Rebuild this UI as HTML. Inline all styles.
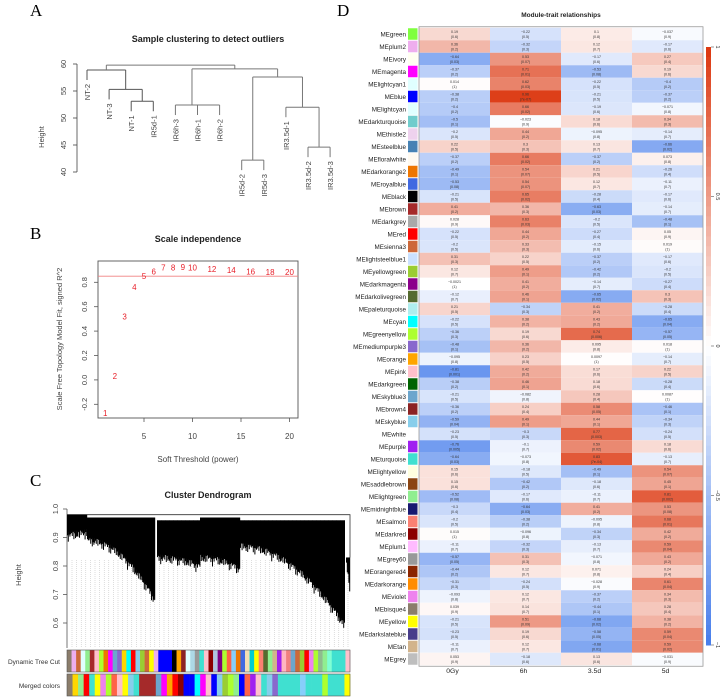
<!DOCTYPE html>
<html><head><meta charset="utf-8"><style>
html,body{margin:0;padding:0;background:#fff;}
svg{display:block;font-family:"Liberation Sans",sans-serif;}
</style></head><body>
<svg id="fig" width="722" height="698" viewBox="0 0 722 698" xmlns="http://www.w3.org/2000/svg">
<text x="30" y="16" font-family="Liberation Serif,serif" font-size="17">A</text>
<text x="337" y="16" font-family="Liberation Serif,serif" font-size="17">D</text>
<text x="30" y="239" font-family="Liberation Serif,serif" font-size="17">B</text>
<text x="30" y="486" font-family="Liberation Serif,serif" font-size="17">C</text>
<text x="208" y="42" text-anchor="middle" font-size="9" font-weight="bold" fill="#222">Sample clustering to detect outliers</text>
<text x="198" y="242" text-anchor="middle" font-size="9" font-weight="bold" fill="#222">Scale independence</text>
<text x="208" y="498" text-anchor="middle" font-size="9" font-weight="bold" fill="#222">Cluster Dendrogram</text>
<text x="561" y="17" text-anchor="middle" font-size="6.5" font-weight="bold" fill="#222">Module-trait relationships</text>
<g id="ga"></g>
<g id="gb"></g>
<g id="gc"></g>
<g id="gd"></g>
</svg>
<script>
// ---------- Panel A data ----------
const sampleNames = ["NT-2","NT-3","NT-1","IR5d-1","IR6h-3","IR6h-1","IR6h-2","IR5d-2","IR5d-3","IR3.5d-1","IR3.5d-2","IR3.5d-3"];
const mergeLeft  = [-3,-2,-1,-6,-5,-8,-11,-10,6,5,3];
const mergeRight = [-4, 1, 2,-7, 4,-9,-12,  7,8,9,10];
const mergeHeight= [53.1,55.3,58.9,52.4,52.4,42.2,44.6,52.0,57.6,59.1,59.8];
const aTicks = [40,45,50,55,60];
// ---------- Panel B data ----------
const powers = [1,2,3,4,5,6,7,8,9,10,12,14,16,18,20];
const fitR2  = [-0.27,0.03,0.52,0.76,0.85,0.89,0.92,0.92,0.925,0.92,0.91,0.9,0.89,0.885,0.885];
const bXTicks = [5,10,15,20];
const bYTicks = [-0.2,0,0.2,0.4,0.6,0.8];
const cutoff = 0.85;
// ---------- Panel C data ----------
const cTicks = [0.6,0.7,0.8,0.9,1.0];
const clusterStart = [67,87,157,200,240,346];
const clusterEnd   = [87,155,200,240,345,350];
const clusterTop   = [0.98,0.97,0.96,0.97,0.96,0.83];
const clusterBotL  = [0.88,0.86,0.80,0.80,0.84,0.78];
const clusterBotR  = [0.89,0.65,0.77,0.76,0.56,0.67];
const dynColors = ["#8b7d6b","#eeaeee","#cd6839","#e0ffff","#90ee90","#a52a2a","#ffc0cb","#adff2f","#ee7600","#ff00ff","#6ca6cd","#8968cd","#ffd700","#00ffff","#ff0000","#87ceeb","#9acd32","#cd6839","#ffff00","#eeaeee","#0000ff","#0000ff","#0000ff","#000000","#ffa500","#8b2323","#e0ffff","#add8e6","#999999","#40e0d0","#ffc0cb","#8b0000","#b0c4de","#800080","#adff2f","#ff6347","#87cefa","#ee7600","#4169e1","#f5deb3","#00ced1","#ffff00","#fa8072","#556b2f","#90ee90","#d2b48c","#a020f0","#ffb6c1","#f08080","#6ca6cd","#cd6839","#9acd32","#ff0000","#ee82ee","#adff2f","#8fbc8f","#90ee90","#7fffd4","#40e0d0","#40e0d0","#40e0d0","#ffc0cb"];
const mrgColors = ["#8b7d6b","#ffd700","#90ee90","#ff0000","#40e0d0","#ffff00","#ee82ee","#adff2f","#ff6347","#ffc0cb","#ffff00","#87ceeb","#40e0d0","#a52a2a","#a52a2a","#a52a2a","#6ca6cd","#ff00ff","#ffa500","#ff0000","#8b0000","#0000ff","#0000ff","#00ffff","#ff00ff","#ffc0cb","#0000ff","#87ceeb","#9acd32","#adff2f","#90ee90","#0000ff","#ff6347","#a020f0","#ffc0cb","#40e0d0","#87ceeb","#8968cd","#40e0d0","#40e0d0","#40e0d0","#40e0d0","#87cefa","#40e0d0","#40e0d0","#40e0d0","#adff2f","#40e0d0","#40e0d0","#40e0d0","#ffff00"];
// ---------- Panel D data ----------
const modules = ["green","plum2","ivory","magenta","lightcyan1","blue","lightcyan","darkturquoise","thistle2","steelblue","floralwhite","darkorange2","royalblue","black","brown","darkgrey","red","sienna3","lightsteelblue1","yellowgreen","darkmagenta","darkolivegreen","paleturquoise","cyan","greenyellow","mediumpurple3","orange","pink","darkgreen","skyblue3","brown4","skyblue","white","purple","turquoise","lightyellow","saddlebrown","lightgreen","midnightblue","salmon","darkred","plum1","grey60","orangered4","darkorange","violet","bisque4","yellow","darkslateblue","tan","grey"];
const moduleColors = ["#7fff3f","#eeaeee","#fffff0","#ff00ff","#e0ffff","#0000ff","#e0ffff","#70cccc","#eed2ee","#4682b4","#fffaf0","#ee7600","#4169e1","#000000","#a52a2a","#a9a9a9","#ff0000","#cd6839","#cae1ff","#9acd32","#8b008b","#556b2f","#afeeee","#00ffff","#adff2f","#8968cd","#ffa500","#ffc0cb","#006400","#6ca6cd","#8b2323","#87ceeb","#ffffff","#a020f0","#40e0d0","#ffffe0","#8b4513","#90ee90","#191970","#fa8072","#8b0000","#ffbbff","#999999","#8b2500","#ff8c00","#ee82ee","#8b7d6b","#ffff00","#483d8b","#d2b48c","#bebebe"];
const traits = ["0Gy","6h","3.5d","5d"];
const cor0Gy = [0.19,0.36,-0.64,-0.37,0.014,-0.38,-0.4,-0.5,-0.2,0.22,-0.37,-0.49,-0.53,-0.21,0.41,0.028,-0.22,-0.2,0.31,0.12,-0.0021,-0.12,0.21,-0.22,-0.36,-0.48,-0.095,-0.81,-0.38,-0.21,-0.36,-0.59,-0.23,-0.76,-0.64,0.15,0.15,-0.52,-0.3,-0.2,0.015,-0.11,-0.57,-0.44,-0.31,-0.093,0.039,-0.21,-0.23,-0.11,0.053];
const p0Gy = ["0.6","0.2","0.03","0.2","1","0.2","0.2","0.1","0.5","0.5","0.2","0.1","0.08","0.5","0.2","0.9","0.5","0.5","0.3","0.7","1","0.7","0.5","0.5","0.3","0.1","0.8","0.001","0.2","0.5","0.2","0.04","0.5","0.005","0.03","0.6","0.6","0.08","0.4","0.5","1","0.7","0.05","0.2","0.3","0.8","0.9","0.5","0.5","0.7","0.9"];
const cor6h = [-0.22,-0.32,0.53,0.71,0.62,0.96,0.66,-0.023,0.44,0.3,0.66,0.54,0.54,0.65,0.36,0.63,0.44,0.33,0.22,0.49,0.41,0.46,-0.34,0.38,0.19,0.36,0.23,0.42,0.46,-0.082,0.24,0.49,-0.3,-0.1,-0.073,-0.18,-0.42,-0.17,-0.64,-0.38,-0.096,-0.32,0.31,0.12,-0.24,0.12,0.14,0.51,0.19,0.12,-0.18];
const p6h = ["0.5","0.3","0.07","0.01","0.03","7e-07","0.02","0.9","0.2","0.3","0.02","0.07","0.07","0.02","0.3","0.03","0.2","0.3","0.5","0.1","0.2","0.1","0.3","0.2","0.6","0.2","0.5","0.2","0.1","0.8","0.4","0.1","0.3","0.7","0.8","0.5","0.2","0.6","0.03","0.2","0.8","0.3","0.3","0.7","0.5","0.7","0.7","0.09","0.6","0.7","0.6"];
const cor35d = [0.1,0.12,-0.17,-0.53,-0.22,-0.21,-0.19,0.18,-0.095,0.13,-0.37,0.21,0.12,-0.28,-0.63,-0.2,-0.27,-0.15,-0.37,-0.42,-0.14,-0.65,0.41,0.43,0.74,0.095,0.0097,0.17,0.18,0.28,0.58,0.44,0.77,0.59,0.83,-0.49,-0.18,-0.11,0.41,-0.095,-0.34,-0.13,-0.071,0.071,-0.028,-0.37,-0.44,-0.68,-0.58,-0.68,0.13];
const p35d = ["0.8","0.7","0.6","0.08","0.5","0.5","0.6","0.6","0.8","0.7","0.2","0.5","0.7","0.4","0.03","0.5","0.4","0.6","0.2","0.2","0.7","0.02","0.2","0.2","0.006","0.8","1","0.6","0.6","0.4","0.05","0.1","0.003","0.02","7e-04","0.1","0.6","0.7","0.2","0.8","0.3","0.7","0.8","0.8","0.9","0.2","0.1","0.02","0.05","0.01","0.6"];
const cor5d = [-0.037,-0.17,0.27,0.19,-0.4,-0.37,-0.071,0.34,-0.14,-0.66,0.073,-0.26,-0.11,-0.17,-0.14,-0.48,0.05,0.019,-0.17,-0.2,-0.27,0.3,-0.28,-0.65,-0.57,0.018,-0.14,0.22,-0.28,0.0087,-0.46,-0.34,-0.24,0.18,-0.13,0.54,0.45,0.81,0.53,0.68,0.42,0.59,0.43,0.24,0.61,0.34,0.28,0.38,0.59,0.59,-0.031];
const p5d = ["0.9","0.6","0.4","0.6","0.2","0.2","0.8","0.3","0.7","0.02","0.8","0.4","0.7","0.6","0.7","0.1","0.9","1","0.6","0.5","0.4","0.3","0.4","0.04","0.05","1","0.7","0.5","0.4","1","0.1","0.3","0.5","0.6","0.7","0.07","0.1","0.002","0.08","0.01","0.2","0.04","0.2","0.4","0.04","0.3","0.4","0.2","0.04","0.02","0.9"];
const cbTicks = [1,0.5,0,-0.5,-1];

const NS = "http://www.w3.org/2000/svg";
function mk(parent, tag, attrs, txt){
  const e = document.createElementNS(NS, tag);
  for (const k in attrs) e.setAttribute(k, attrs[k]);
  if (txt !== undefined) e.textContent = txt;
  parent.appendChild(e);
  return e;
}
function fmt(v){ return v < 0 ? "\u2212" + String(-v) : String(v); }

// ===== Panel A =====
(function(){
  const g = document.getElementById("ga");
  const yA = h => 64 + (60 - h) * 5.4;
  const xLeaf = i => 87 + i * 22.1;
  const ax = mk(g, "line", {x1:77, x2:77, y1:yA(40), y2:yA(60), stroke:"#444", "stroke-width":0.8});
  
  
  aTicks.forEach(t => {
    const tk = mk(g, "line", {x1:73, x2:77, y1:yA(t), y2:yA(t), stroke:"#444", "stroke-width":0.8});
    
    
    const lb = mk(g, "text", {x:0, y:0, transform:`translate(66,${yA(t)}) rotate(-90)`, "text-anchor":"middle", "font-size":7.5, fill:"#444"}, String(t));
    
    
  });
  const yl = mk(g, "text", {x:0, y:0, transform:"translate(44,137) rotate(-90)", "text-anchor":"middle", "font-size":7.5, fill:"#444"}, "Height");
  
  
  const centers = [];
  function node(ref){ return ref < 0 ? {x:xLeaf(-ref-1), leaf:-ref-1} : {x:centers[ref-1].x, h:mergeHeight[ref-1]}; }
  mergeLeft.forEach((l, i) => {
    const a = node(l), b = node(mergeRight[i]);
    const y = yA(mergeHeight[i]);
    const col = i < 3 ? "#555" : "#777";
    const hl = mk(g, "line", {x1:a.x, x2:b.x, y1:y, y2:y, stroke:col, "stroke-width":1});
    
    
    [a, b].forEach(n => {
      const yEnd = n.leaf !== undefined ? y + 10 : yA(n.h);
      const vl = mk(g, "line", {x1:n.x, x2:n.x, y1:y, y2:yEnd, stroke:col, "stroke-width":1});
      
      
      if (n.leaf !== undefined) {
        const t = mk(g, "text", {x:0, y:0, transform:`translate(${n.x+3},${yEnd+4}) rotate(-90)`, "text-anchor":"end", "font-size":7.5, fill:"#444"}, sampleNames[n.leaf]);
        
        
      }
    });
    centers.push({x:(a.x + b.x) / 2});
  });
})();

// ===== Panel B =====
(function(){
  const g = document.getElementById("gb");
  const xB = p => 144 + (p - 5) * 9.7;
  const yB = v => 282.3 + (0.8 - v) * 122;
  const box = mk(g, "rect", {x:98, y:261, width:200, height:157, fill:"none", stroke:"#555", "stroke-width":0.9});
  
  
  bXTicks.forEach(t => {
    const tk = mk(g, "line", {x1:xB(t), x2:xB(t), y1:418, y2:422, stroke:"#555", "stroke-width":0.8});
    
    
    const lb = mk(g, "text", {x:xB(t), y:439, "text-anchor":"middle", "font-size":8, fill:"#444"}, String(t));
    
    
  });
  bYTicks.forEach(t => {
    const tk = mk(g, "line", {x1:94, x2:98, y1:yB(t), y2:yB(t), stroke:"#555", "stroke-width":0.8});
    
    
    const lb = mk(g, "text", {x:0, y:0, transform:`translate(87,${yB(t)}) rotate(-90)`, "text-anchor":"middle", "font-size":7.5, fill:"#444"}, t.toFixed(1));
    
    
  });
  const xl = mk(g, "text", {x:198, y:462, "text-anchor":"middle", "font-size":8, fill:"#444"}, "Soft Threshold (power)");
  
  
  const yl = mk(g, "text", {x:0, y:0, transform:"translate(62,339) rotate(-90)", "text-anchor":"middle", "font-size":7.5, fill:"#444"}, "Scale Free Topology Model Fit, signed R^2");
  
  
  const cl = mk(g, "line", {x1:98, x2:298, y1:yB(cutoff), y2:yB(cutoff), stroke:"#f08080", "stroke-width":0.9});
  
  
  powers.forEach((p, i) => {
    const t = mk(g, "text", {x:xB(p), y:yB(fitR2[i]) + 3, "text-anchor":"middle", "font-size":8, fill:"#e8202a"}, String(p));
    
    
  });
})();

// ===== Panel C =====
(function(){
  const g = document.getElementById("gc");
  const yC = h => 509 + (1.0 - h) * 285;
  cTicks.forEach(t => {
    const tk = mk(g, "line", {x1:63, x2:67, y1:yC(t), y2:yC(t), stroke:"#555", "stroke-width":0.8});
    
    
    const lb = mk(g, "text", {x:0, y:0, transform:`translate(58,${yC(t)}) rotate(-90)`, "text-anchor":"middle", "font-size":7.5, fill:"#444"}, t.toFixed(1));
    
    
  });
  const ax = mk(g, "line", {x1:67, x2:67, y1:yC(1.0), y2:648, stroke:"#555", "stroke-width":0.8});
  
  
  const yl = mk(g, "text", {x:0, y:0, transform:"translate(21,575) rotate(-90)", "text-anchor":"middle", "font-size":7.5, fill:"#444"}, "Height");
  
  
  for (let x = 72; x < 350; x += 4.6) {
    const dl = mk(g, "line", {x1:x, x2:x, y1:560, y2:648, stroke:"#bbb", "stroke-width":0.5, "stroke-dasharray":"1,1"});
    
    
  }
  const top = mk(g, "polyline", {points:`67,${yC(0.98)} 350,${yC(0.98)} 350,${yC(0.83)}`, fill:"none", stroke:"#333", "stroke-width":0.8});
  
  
  clusterStart.forEach((x0, i) => {
    const x1 = clusterEnd[i];
    const grp = mk(g, "g", {stroke:"#000", "stroke-width":1});
    
    
    const yt = yC(clusterTop[i]);
    const bot = f => clusterBotL[i] + (clusterBotR[i] - clusterBotL[i]) * f * f;
    // solid body
    const pts = [[x0, yt], [x1, yt]];
    const n = 12;
    for (let k = 0; k <= n; k++) {
      const f = 1 - k / n;
      pts.push([x0 + (x1 - x0) * f, yC(bot(f) + 0.04)]);
    }
    const body = mk(grp, "polygon", {points: pts.map(p => p.join(",")).join(" "), fill:"#000", stroke:"none"});
    
    
    for (let x = x0 + 0.5; x <= x1; x += 0.8) {
      const f = (x - x0) / Math.max(1, x1 - x0);
      const jig = 0.025 * Math.abs(Math.sin(x * 1.7)) + 0.015 * Math.abs(Math.sin(x * 0.37));
      const ln = mk(grp, "line", {x1:x, x2:x, y1:yt, y2:yC(bot(f) + jig)});
      
      
    }
  });
  const lab1 = mk(g, "text", {x:60, y:664, "text-anchor":"end", "font-size":6.5, fill:"#333"}, "Dynamic Tree Cut");
  
  
  const lab2 = mk(g, "text", {x:60, y:688, "text-anchor":"end", "font-size":6.5, fill:"#333"}, "Merged colors");
  
  
  [[dynColors, 650, 'c-dynamic-stripe'], [mrgColors, 674, 'c-merged-stripe']].forEach(([cols, y, nm]) => {
    const w = 283 / cols.length;
    cols.forEach((c, i) => {
      const r = mk(g, "rect", {x:67 + i * w, y:y, width:w + 0.3, height:22, fill:c});
      
      
    });
    const fr = mk(g, "rect", {x:67, y:y, width:283, height:22, fill:"none", stroke:"#555", "stroke-width":0.6});
    
    
  });
})();

// ===== Panel D =====
(function(){
  const g = document.getElementById("gd");
  const top = 27.75, rh = 12.5, x0 = 419, cw = 71;
  const cors = [cor0Gy, cor6h, cor35d, cor5d];
  const ps = [p0Gy, p6h, p35d, p5d];
  function col(v){
    const lo = [70,125,235], hi = [220,55,15];
    const e = v < 0 ? lo : hi, a = Math.min(1, Math.abs(v));
    const c = [0,1,2].map(k => Math.round(255 + (e[k] - 255) * a));
    return `rgb(${c[0]},${c[1]},${c[2]})`;
  }
  modules.forEach((m, r) => {
    const y = top + r * rh;
    const lb = mk(g, "text", {x:406, y:y + rh/2 + 2.3, "text-anchor":"end", "font-size":6.3, fill:"#222"}, "ME" + m);
    
    
    const sw = mk(g, "rect", {x:408, y:y + 0.5, width:9.5, height:rh - 1, fill:moduleColors[r]});
    
    
    cors.forEach((arr, c) => {
      const v = arr[r];
      const cell = mk(g, "rect", {x:x0 + c * cw, y:y, width:cw, height:rh, fill:col(v)});
      
      
      const t = mk(g, "text", {x:x0 + c * cw + cw/2, y:y + 5.3, "text-anchor":"middle", "font-size":3.6, fill:"#333"}, fmt(v));
      
      
      const t2 = mk(g, "text", {x:x0 + c * cw + cw/2, y:y + 10, "text-anchor":"middle", "font-size":3.6, fill:"#333"}, "(" + ps[c][r] + ")");
      
      
    });
  });
  const fr = mk(g, "rect", {x:x0, y:top - 1, width:cw * 4, height:rh * modules.length + 2, fill:"none", stroke:"#999", "stroke-width":0.8});
  
  
  traits.forEach((t, c) => {
    const lb = mk(g, "text", {x:x0 + c * cw + cw/2 - 2, y:673, "text-anchor":"middle", "font-size":6.8, fill:"#222"}, t);
    
    
  });
  const cbTop = 47, cbBot = 645, cbX = 706;
  const yCb = v => cbTop + (1 - v) / 2 * (cbBot - cbTop);
  for (let i = 0; i < 60; i++) {
    const v0 = 1 - i / 30;
    const r = mk(g, "rect", {x:cbX, y:yCb(v0), width:5, height:(cbBot - cbTop) / 60 + 0.5, fill:col(v0 - 1/60)});
    
    
  }
  cbTicks.forEach(t => {
    const tk = mk(g, "line", {x1:711, x2:714, y1:yCb(t), y2:yCb(t), stroke:"#555", "stroke-width":0.6});
    
    
    const lb = mk(g, "text", {x:0, y:0, transform:`translate(716,${yCb(t)}) rotate(90)`, "text-anchor":"middle", "font-size":5.5, fill:"#333"}, fmt(t));
    
    
  });
})();
</script>
</body></html>
